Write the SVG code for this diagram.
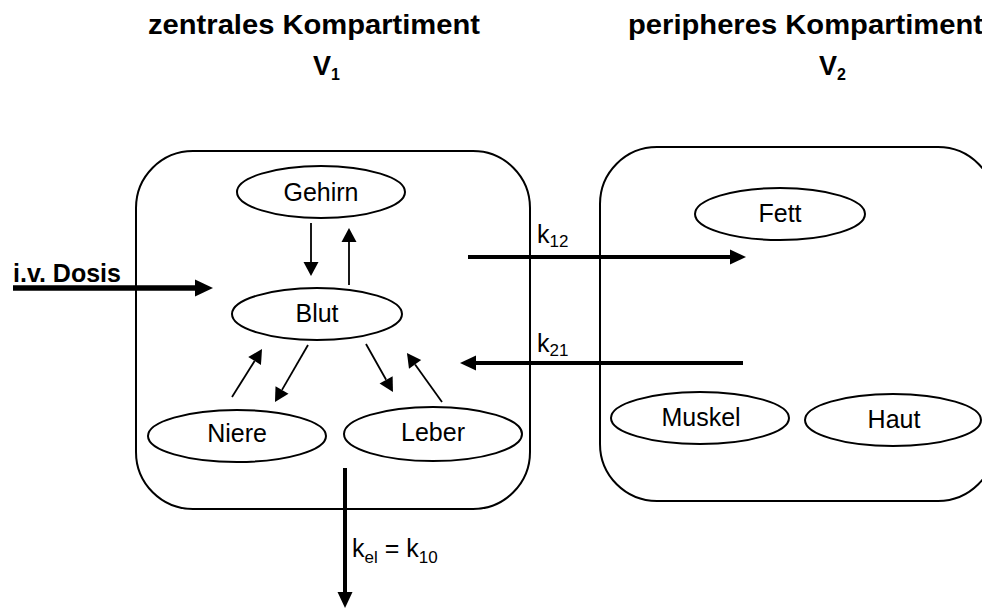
<svg xmlns="http://www.w3.org/2000/svg" width="982" height="609" viewBox="0 0 982 609">
<style>
.box{fill:none;stroke:#000;stroke-width:2}
.node{fill:#fff;stroke:#000;stroke-width:2}
.t{font-family:"Liberation Sans",Arial,sans-serif;font-size:25px;fill:#000}
.title{font-family:"Liberation Sans",Arial,sans-serif;font-size:27px;font-weight:bold;fill:#000}
.thin{stroke:#000;stroke-width:1.8;fill:none;marker-end:url(#ah)}
.thick{stroke:#000;stroke-width:4;fill:none;marker-end:url(#ahb)}
</style>
<defs>
<marker id="ah" markerUnits="userSpaceOnUse" markerWidth="14" markerHeight="15" refX="0" refY="7.5" orient="auto" overflow="visible"><path d="M0,0 L14,7.5 L0,15 z" fill="#000"/></marker>
<marker id="ahb" markerUnits="userSpaceOnUse" markerWidth="16" markerHeight="15" refX="0" refY="7.5" orient="auto" overflow="visible"><path d="M0,0 L16,7.5 L0,15 z" fill="#000"/></marker>
<marker id="ahiv" markerUnits="userSpaceOnUse" markerWidth="18" markerHeight="17" refX="0" refY="8.5" orient="auto" overflow="visible"><path d="M0,0 L18,8.5 L0,17 z" fill="#000"/></marker>
</defs>
<rect fill="#fff" x="0" y="0" width="982" height="609"/>
<g id="titles">
<text class="title" x="148" y="34" textLength="332" lengthAdjust="spacingAndGlyphs">zentrales Kompartiment</text>
<text class="title" x="313" y="75" font-size="24">V<tspan font-size="16" dy="5">1</tspan></text>
<text class="title" x="628" y="34" textLength="355" lengthAdjust="spacingAndGlyphs">peripheres Kompartiment</text>
<text class="title" x="819" y="75" font-size="24">V<tspan font-size="16" dy="5">2</tspan></text>
</g>
<g id="central-compartment"><rect class="box" x="136" y="151" width="394" height="358" rx="57" ry="57"/></g>
<g id="peripheral-compartment"><rect class="box" x="600" y="147" width="395" height="354" rx="57" ry="57"/></g>
<g id="connectors">
<path class="thin" d="M311,223 L311,262"/>
<path class="thin" d="M349,285 L349,242"/>
<path class="thin" d="M232,397 L254.6,360.9"/>
<path class="thin" d="M308,345 L282,389.9"/>
<path class="thin" d="M366,344 L386.1,379.8"/>
<path class="thin" d="M442,402 L415.1,364.4"/>
<path d="M13,288 L195,288" stroke="#000" stroke-width="5.5" fill="none" marker-end="url(#ahiv)"/>
<path class="thick" d="M468,257 L730,257"/>
<path class="thick" d="M743,363 L476,363"/>
<path class="thick" d="M345,468 L345,592"/>
</g>
<g id="labels">
<text class="t" x="13" y="282" font-size="26" font-weight="bold">i.v. Dosis</text>
<text class="t" x="537" y="243">k<tspan font-size="17" dy="4">12</tspan></text>
<text class="t" x="537" y="352">k<tspan font-size="17" dy="4">21</tspan></text>
<text class="t" x="352" y="557">k<tspan font-size="17" dy="6">el</tspan><tspan dy="-6"> = k</tspan><tspan font-size="17" dy="6">10</tspan></text>
</g>
<g id="node-gehirn"><ellipse class="node" cx="321" cy="192" rx="84" ry="26"/><text class="t" x="321" y="201" text-anchor="middle">Gehirn</text></g>
<g id="node-blut"><ellipse class="node" cx="317" cy="314" rx="85" ry="26"/><text class="t" x="317" y="322" text-anchor="middle">Blut</text></g>
<g id="node-niere"><ellipse class="node" cx="237" cy="436" rx="89" ry="26"/><text class="t" x="237" y="442" text-anchor="middle">Niere</text></g>
<g id="node-leber"><ellipse class="node" cx="433" cy="434" rx="89" ry="27"/><text class="t" x="433" y="441" text-anchor="middle">Leber</text></g>
<g id="node-fett"><ellipse class="node" cx="780" cy="214" rx="85" ry="26"/><text class="t" x="780" y="222" text-anchor="middle">Fett</text></g>
<g id="node-muskel"><ellipse class="node" cx="700" cy="418" rx="89" ry="26"/><text class="t" x="701" y="426" text-anchor="middle">Muskel</text></g>
<g id="node-haut"><ellipse class="node" cx="893" cy="420" rx="88" ry="26"/><text class="t" x="894" y="428" text-anchor="middle">Haut</text></g>
</svg>
